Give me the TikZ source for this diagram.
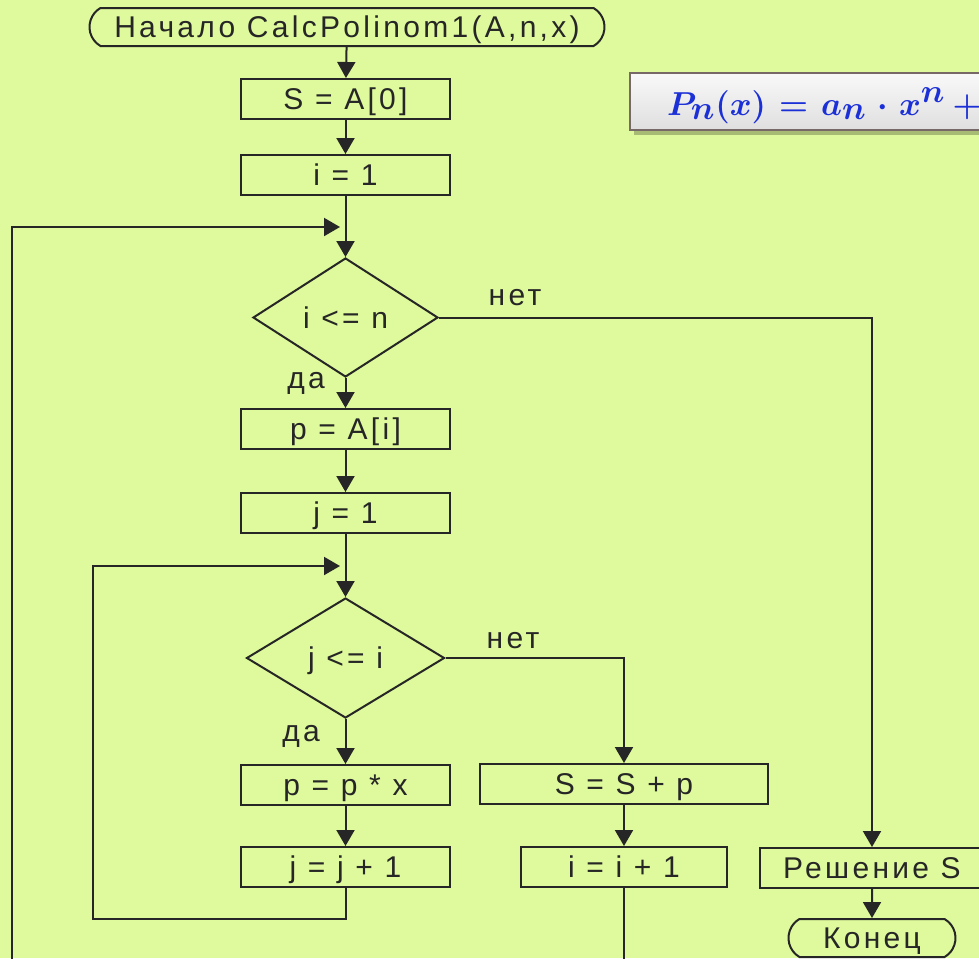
\documentclass[tikz,border=0pt]{standalone}
\usepackage{fontspec}
\setmainfont{Liberation Sans}[LetterSpace=11]
\usepackage{amsmath,bm}
\usetikzlibrary{shapes.geometric,shapes.misc,arrows.meta}
\definecolor{bg}{RGB}{223,250,156}
\definecolor{ln}{RGB}{38,38,38}
\definecolor{fblue}{RGB}{28,48,215}
\definecolor{fbord}{RGB}{120,105,105}
\newcommand{\pformula}{\fontsize{33}{38}\selectfont\color{fblue}$\bm{P_n(x)\mkern2mu = \mkern2mu a_n\mkern2mu \cdot \mkern2mu x^n + {}}$}
\begin{document}
\begin{tikzpicture}[x=0.75pt,y=-0.75pt,
  line width=1.5pt,
  every node/.style={text=ln, font=\fontsize{22.5}{27}\selectfont, text height=16pt, text depth=0pt},
  box/.style={draw=ln, rectangle, minimum width=156.75pt, minimum height=30pt, inner sep=0pt},
  term/.style={draw=ln, rounded rectangle, rounded rectangle arc length=120, minimum height=28.5pt, inner sep=0pt},
  dec/.style={draw=ln, diamond, inner sep=0pt},
  arr/.style={draw=ln, -{Triangle[length=12pt,width=13.5pt]}},
  lbl/.style={inner sep=0pt, anchor=base}
]
\useasboundingbox (0,0) rectangle (979,958);
\clip (0,0) rectangle (979,958);
\fill[bg] (0,0) rectangle (979,958);

% formula box
\fill[black, opacity=0.25] (634,77) rectangle (1000,135);
\shade[top color=white!95!gray, bottom color=gray!25!white] (630,73) rectangle (1000,130);
\draw[fbord, line width=1.2pt] (630,73) rectangle (1000,130);
\node[anchor=base west, inner sep=0pt, text height=, text depth=] (fm) at (666,115) {\pformula};

% main column
\node[term, minimum width=386.25pt] (start) at (347,27) {Начало CalcPolinom1(A,n,x)};
\node[box] (s0) at (345.5,99) {S = A[0]};
\node[box] (i1) at (345.5,175) {i = 1};
\node[dec, minimum width=138.75pt, minimum height=89.25pt] (d1) at (345.5,317.5) {i <= n};
\node[box] (pA) at (345.5,429) {p = A[i]};
\node[box] (j1) at (345.5,513) {j = 1};
\node[dec, minimum width=148.5pt, minimum height=90pt] (d2) at (345.5,658) {j <= i};
\node[box] (ppx) at (345.5,785) {p = p * x};
\node[box] (jj) at (345.5,867) {j = j + 1};
\node[box, minimum width=216pt] (ssp) at (624,784) {S = S + p};
\node[box, minimum width=154.5pt] (ii) at (624,867) {i = i + 1};
\node[box, minimum width=168pt] (res) at (872,868) {Решение S};
\node[term, minimum width=125.25pt] (end) at (872,938) {Конец};

% labels
\node[lbl] (l1) at (515,305) {нет};
\node[lbl] (l2) at (306,388) {да};
\node[lbl] (l3) at (513,648) {нет};
\node[lbl] (l4) at (301,741) {да};

\coordinate (lp1) at (340,227);
\coordinate (lp2) at (340,566);
\coordinate (ob) at (624,1000);

% connectors
\draw[arr] (start) -- (s0);
\draw[arr] (s0) -- (i1);
\draw[arr] (i1) -- (d1);
\draw[arr] (ii.south) -- (ob) -| (12,227) -- (lp1);
\draw[arr] (d1.east) -| (res.north);
\draw[arr] (d1.south) -- (pA.north);
\draw[arr] (pA) -- (j1);
\draw[arr] (j1.south) -- (d2.north);
\draw[arr] (jj.south) |- (93,919) -- (93,566) -- (lp2);
\draw[arr] (d2.east) -| (ssp.north);
\draw[arr] (d2.south) -- (ppx.north);
\draw[arr] (ppx) -- (jj);
\draw[arr] (ssp) -- (ii);
\draw[arr] (res) -- (end);
\end{tikzpicture}
\end{document}
